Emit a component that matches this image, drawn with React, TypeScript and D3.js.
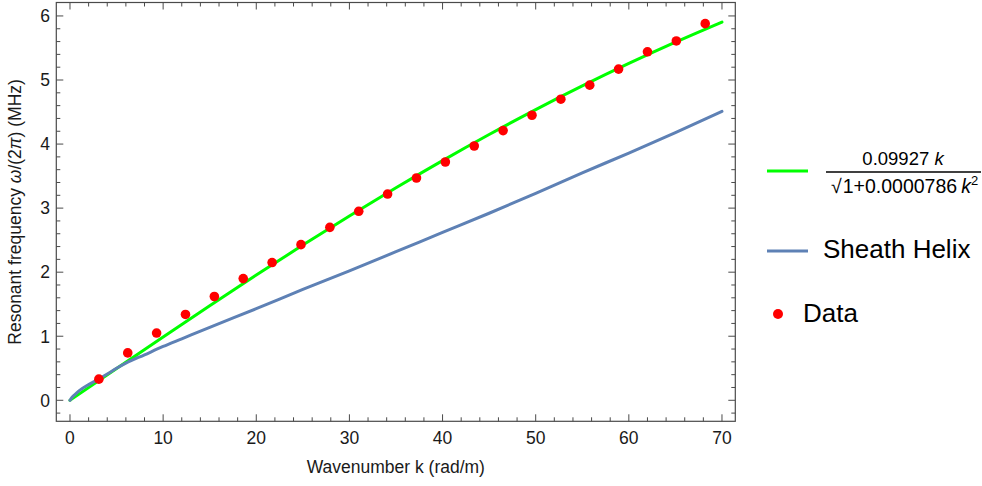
import React from "react";
import * as d3 from "d3";

// ---------- data ----------
const kData = [3.1, 6.2, 9.3, 12.4, 15.5, 18.6, 21.7, 24.8, 27.9, 31.0, 34.1, 37.2, 40.3, 43.4, 46.5, 49.6, 52.7, 55.8, 58.9, 62.0, 65.1, 68.2];
const freqData = [0.33, 0.74, 1.05, 1.34, 1.62, 1.90, 2.15, 2.43, 2.70, 2.95, 3.22, 3.47, 3.72, 3.97, 4.21, 4.45, 4.70, 4.92, 5.17, 5.44, 5.61, 5.88];

const kFit = [0, 5, 10, 15, 20, 25, 30, 35, 40, 45, 50, 55, 60, 65, 70];
const fitFreq = [0, 0.496, 0.989, 1.476, 1.955, 2.423, 2.878, 3.318, 3.742, 4.149, 4.538, 4.907, 5.258, 5.591, 5.905];

const kSheath = [0, 0.25, 0.5, 1, 2, 3, 4, 5, 6, 8, 10, 12, 15, 20, 25, 30, 35, 40, 45, 50, 55, 60, 65, 70];
const sheathFreq = [0, 0.05, 0.085, 0.15, 0.245, 0.325, 0.41, 0.5, 0.58, 0.71, 0.84, 0.96, 1.14, 1.43, 1.73, 2.02, 2.32, 2.62, 2.92, 3.23, 3.55, 3.86, 4.18, 4.51];

const xMajorTicks = [0, 10, 20, 30, 40, 50, 60, 70];
const yMajorTicks = [0, 1, 2, 3, 4, 5, 6];

const xLabel = "Wavenumber k (rad/m)";
const seriesNames = ["Sheath Helix", "Data"];

// ---------- layout ----------
const W = 982;
const H = 486;
const L = 56.3, R = 735.3, T = 2.5, B = 421.3;

const FONT = "'Liberation Sans', Arial, Helvetica, sans-serif";
const FRAME = "#4a4a4a";
const TEXT = "#1a1a1a";
const GREEN = "#00ff00";
const BLUE = "#5e81b5";
const RED = "#ff0000";

export default function App() {
  const x = d3.scaleLinear().domain([-1.47, 71.43]).range([L, R]);
  const y = d3.scaleLinear().domain([-0.328, 6.21]).range([B, T]);

  const line = d3
    .line<[number, number]>()
    .x((d) => x(d[0]))
    .y((d) => y(d[1]))
    .curve(d3.curveMonotoneX);

  const fitPath = line(kFit.map((k, i) => [k, fitFreq[i]] as [number, number])) || "";
  const sheathPath = line(kSheath.map((k, i) => [k, sheathFreq[i]] as [number, number])) || "";

  const [xd0, xd1] = x.domain();
  const [yd0, yd1] = y.domain();
  const xMinor = d3.range(Math.ceil(xd0 / 2) * 2, xd1 + 1e-9, 2).filter((v) => Math.abs(v % 10) > 1e-6);
  const yMinor = d3
    .range(Math.ceil(yd0 / 0.2) * 0.2, yd1 + 1e-9, 0.2)
    .map((v) => Math.round(v * 10) / 10)
    .filter((v) => Math.abs(v - Math.round(v)) > 1e-6 && y(v) > T + 1 && y(v) < B - 1);

  const MAJ = 7;
  const MIN = 4;

  return (
    <svg
      width={W}
      height={H}
      style={{ position: "absolute", left: 0, top: 0, background: "#fff" }}
      fontFamily={FONT}
    >
      <defs>
        <clipPath id="plotClip">
          <rect x={L} y={T} width={R - L} height={B - T} />
        </clipPath>
      </defs>

      {/* curves */}
      <g clipPath="url(#plotClip)">
        <path d={fitPath} fill="none" stroke={GREEN} strokeWidth={3} strokeLinecap="round" />
        <path d={sheathPath} fill="none" stroke={BLUE} strokeWidth={3} strokeLinecap="round" />
        {kData.map((k, i) => (
          <circle key={i} cx={x(k)} cy={y(freqData[i])} r={4.8} fill={RED} />
        ))}
      </g>

      {/* frame */}
      <rect x={L} y={T} width={R - L} height={B - T} fill="none" stroke={FRAME} strokeWidth={1.2} />

      {/* x ticks */}
      {xMajorTicks.map((v) => (
        <g key={"xM" + v}>
          <line x1={x(v)} x2={x(v)} y1={B} y2={B - MAJ} stroke={FRAME} strokeWidth={1} />
          <line x1={x(v)} x2={x(v)} y1={T} y2={T + MAJ} stroke={FRAME} strokeWidth={1} />
          <text x={x(v)} y={444} textAnchor="middle" fontSize={17.5} fill={TEXT}>
            {v}
          </text>
        </g>
      ))}
      {xMinor.map((v) => (
        <g key={"xm" + v}>
          <line x1={x(v)} x2={x(v)} y1={B} y2={B - MIN} stroke={FRAME} strokeWidth={1} />
          <line x1={x(v)} x2={x(v)} y1={T} y2={T + MIN} stroke={FRAME} strokeWidth={1} />
        </g>
      ))}

      {/* y ticks */}
      {yMajorTicks.map((v) => (
        <g key={"yM" + v}>
          <line x1={L} x2={L + MAJ} y1={y(v)} y2={y(v)} stroke={FRAME} strokeWidth={1} />
          <line x1={R} x2={R - MAJ} y1={y(v)} y2={y(v)} stroke={FRAME} strokeWidth={1} />
          <text x={50} y={y(v) + 6.3} textAnchor="end" fontSize={17.5} fill={TEXT}>
            {v}
          </text>
        </g>
      ))}
      {yMinor.map((v) => (
        <g key={"ym" + v}>
          <line x1={L} x2={L + MIN} y1={y(v)} y2={y(v)} stroke={FRAME} strokeWidth={1} />
          <line x1={R} x2={R - MIN} y1={y(v)} y2={y(v)} stroke={FRAME} strokeWidth={1} />
        </g>
      ))}

      {/* axis labels */}
      <text x={(L + R) / 2} y={473} textAnchor="middle" fontSize={17.5} fill={TEXT}>
        {xLabel}
      </text>
      <text
        transform={`translate(21,${(T + B) / 2}) rotate(-90)`}
        textAnchor="middle"
        fontSize={17.5}
        fill={TEXT}
      >
        Resonant frequency <tspan fontStyle="italic">ω</tspan>/(2<tspan fontStyle="italic">π</tspan>) (MHz)
      </text>

      {/* legend */}
      <line x1={767} x2={808} y1={171} y2={171} stroke={GREEN} strokeWidth={3} />
      <text x={903} y={165} textAnchor="middle" fontSize={18.5} fill="#000">
        0.09927 <tspan fontStyle="italic">k</tspan>
      </text>
      <line x1={826} x2={981} y1={172} y2={172} stroke="#000" strokeWidth={1.3} />
      <text x={831} y={193} fontSize={19.5} fill="#000">
        √<tspan dx={1}>1+0.0000786</tspan>
        <tspan dx={4} fontStyle="italic">k</tspan>
        <tspan fontSize={13} dy={-8}>2</tspan>
      </text>

      <line x1={767} x2={808} y1={251} y2={251} stroke={BLUE} strokeWidth={3} />
      <text x={823} y={258} fontSize={26} fill="#000">
        {seriesNames[0]}
      </text>

      <circle cx={778} cy={314} r={5} fill={RED} />
      <text x={803} y={322} fontSize={26} fill="#000">
        {seriesNames[1]}
      </text>
    </svg>
  );
}
